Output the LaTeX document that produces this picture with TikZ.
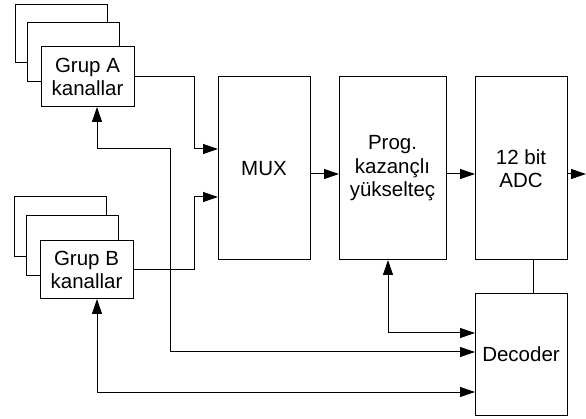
\documentclass[tikz,border=0pt]{standalone}
\usepackage{fontspec}
\setmainfont{Liberation Sans}
\usetikzlibrary{arrows.meta}
\begin{document}
\begin{tikzpicture}[x=1pt,y=-1pt,
  box/.style={draw=black,fill=white,line width=1pt,inner sep=0pt,outer sep=0pt,align=center,font=\fontsize{20.5}{23.5}\selectfont},
  conn/.style={line width=1pt,draw=black},
  arr/.style={conn,-{Triangle[length=15pt,width=10pt]}},
  dbl/.style={conn,{Triangle[length=15pt,width=10pt]}-{Triangle[length=15pt,width=10pt]}}]
\useasboundingbox (0,0) rectangle (586,419);
% Group A stack
\node[box,minimum width=92pt,minimum height=58pt] (ga3) at (61,34) {};
\node[box,minimum width=92pt,minimum height=59pt] (ga2) at (73,52.5) {};
\node[box,minimum width=93pt,minimum height=60pt] (ga) at (87.5,77) {Grup A\\kanallar};
% Group B stack
\node[box,minimum width=92pt,minimum height=60pt] (gb3) at (60,227) {};
\node[box,minimum width=92pt,minimum height=60pt] (gb2) at (72,246) {};
\node[box,minimum width=93pt,minimum height=58pt] (gb) at (86.5,270) {Grup B\\kanallar};
% main blocks
\node[box,minimum width=92pt,minimum height=183pt] (mux) at (264,168.5) {MUX};
\node[box,minimum width=107pt,minimum height=183pt] (pga) at (392.5,168.5) {Prog.\\kazançlı\\yükselteç};
\node[box,minimum width=92pt,minimum height=183pt] (adc) at (521,168.5) {12 bit\\ADC};
\node[box,minimum width=92pt,minimum height=121pt] (dec) at (521,354.5) {Decoder};
% helper coordinates
\coordinate (a1) at (194,149);
\coordinate (b1) at (194,197);
\coordinate (m) at (0,174);
\coordinate (out) at (586,174);
\coordinate (c) at (533,0);
\coordinate (p1) at (388,333);
\coordinate (q1) at (97,149);
\coordinate (q2) at (170,149);
\coordinate (q3) at (170,352);
\coordinate (r1) at (97,392);
% connectors
\draw[arr] (ga.east) -| (a1) -- (a1 -| mux.west);
\draw[arr] (gb.east) -| (b1) -- (b1 -| mux.west);
\draw[arr] (mux.east |- m) -- (pga.west |- m);
\draw[arr] (pga.east |- m) -- (adc.west |- m);
\draw[arr] (adc.east |- m) -- (out);
\draw[conn] (adc.south -| c) -- (dec.north -| c);
\draw[dbl] (pga.south -| p1) -- (p1) -- (p1 -| dec.west);
\draw[dbl] (ga.south -| q1) -- (q1) -- (q2) -- (q3) -- (q3 -| dec.west);
\draw[dbl] (gb.south -| r1) -- (r1) -- (r1 -| dec.west);
\end{tikzpicture}
\end{document}
